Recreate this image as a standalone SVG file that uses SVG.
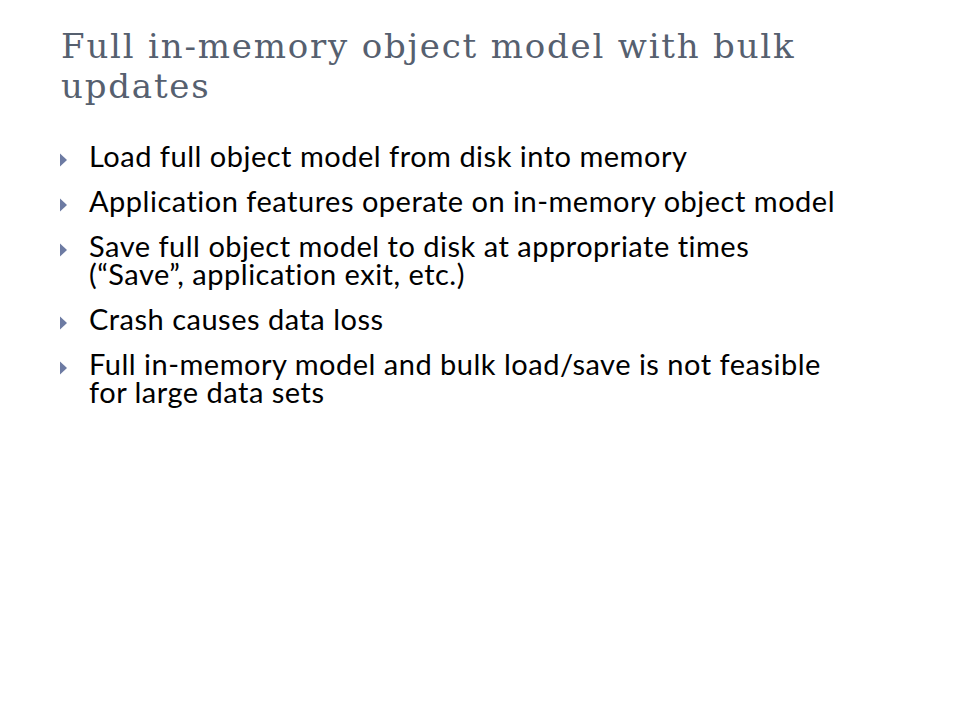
<svg xmlns="http://www.w3.org/2000/svg" width="960" height="720" viewBox="0 0 960 720">
<style>
.title{font-family:"DejaVu Serif","Liberation Serif",serif;font-size:34px;letter-spacing:1.8px;fill:#56606f}
.body{font-family:Lato,"Open Sans","Liberation Sans",sans-serif;font-size:29px;letter-spacing:0.5px;fill:#000}
.bul{fill:#6d7ba3}
</style>
<defs><path id="tri" d="M0,-6.5 L7,0 L0,6.5 Z"/></defs>
<rect width="960" height="720" fill="#fff"/>
<g id="title">
<text class="title" x="61" y="58">Full in-memory object model with bulk<tspan x="61" dy="40">updates</tspan></text>
</g>
<g id="bullets">
<g id="b1">
<use href="#tri" class="bul" x="60" y="160"/>
<text class="body" x="89" y="167">Load full object model from disk into memory</text>
</g>
<g id="b2">
<use href="#tri" class="bul" x="60" y="205"/>
<text class="body" x="89" y="212">Application features operate on in-memory object model</text>
</g>
<g id="b3">
<use href="#tri" class="bul" x="60" y="250"/>
<text class="body" x="89" y="257">Save full object model to disk at appropriate times<tspan x="89" dy="28">(“Save”, application exit, etc.)</tspan></text>
</g>
<g id="b4">
<use href="#tri" class="bul" x="60" y="323"/>
<text class="body" x="89" y="330">Crash causes data loss</text>
</g>
<g id="b5">
<use href="#tri" class="bul" x="60" y="368"/>
<text class="body" x="89" y="375">Full in-memory model and bulk load/save is not feasible<tspan x="89" dy="28">for large data sets</tspan></text>
</g>
</g>
</svg>
